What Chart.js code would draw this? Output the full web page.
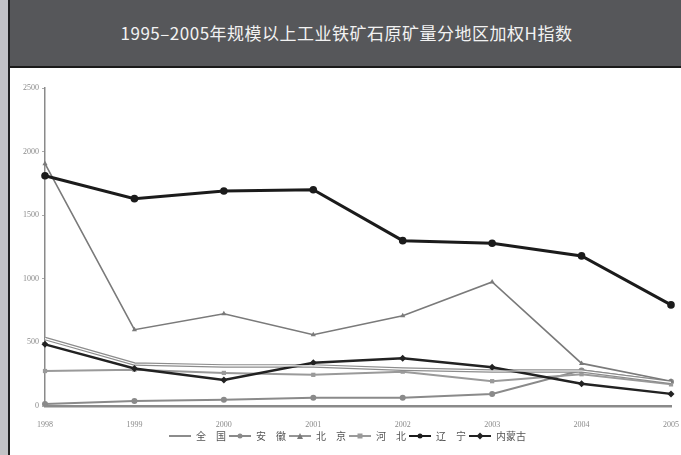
<!DOCTYPE html>
<html>
<head>
<meta charset="utf-8">
<script src="https://cdn.jsdelivr.net/npm/chart.js@4.4.1/dist/chart.umd.min.js"></script>
<style>
  html, body { margin: 0; padding: 0; width: 681px; height: 455px; overflow: hidden; background: #c3c3c6; }
  #frame { position: absolute; left: 8px; top: 0; width: 700px; height: 455px; background: #fff; border-left: 2px solid #222; }
  #title { position: absolute; left: 0; top: 0; width: 673px; height: 66px; background: #56575a; border-bottom: 2px solid #1a1a1a;
           color: #f2f2f2; font: 17px "Noto Sans CJK SC", "Noto Sans", sans-serif; line-height: 66px; text-align: center; letter-spacing: 0.5px; }
  #wrap { position: absolute; left: 0; top: 70px; width: 675px; height: 385px; }
</style>
</head>
<body>
<div id="frame">
  <div id="title">1995–2005年规模以上工业铁矿石原矿量分地区加权H指数</div>
  <div id="wrap"><canvas id="chart"></canvas></div>
</div>
<script>
// ── data ───────────────────────────────────────────────────────────────
const years = ['1998', '1999', '2000', '2001', '2002', '2003', '2004', '2005'];
const yTicks = [0, 500, 1000, 1500, 2000, 2500];
const quanguo = [530, 330, 315, 315, 290, 275, 275, 185];
const anhui   = [15, 40, 50, 65, 65, 95, 280, 190];
const beijing = [1905, 600, 725, 560, 710, 975, 335, 195];
const hebei   = [275, 285, 260, 245, 270, 195, 250, 170];
const liaoning = [1810, 1630, 1690, 1700, 1300, 1280, 1180, 795];
const neimenggu = [485, 295, 205, 340, 375, 305, 175, 95];

// small legend icon: line with marker in the middle
function legendIcon(color, marker, lw) {
  const c = document.createElement('canvas');
  c.width = 22; c.height = 8;
  const g = c.getContext('2d');
  g.strokeStyle = color; g.fillStyle = color; g.lineWidth = lw;
  g.beginPath(); g.moveTo(0, 4); g.lineTo(22, 4); g.stroke();
  if (marker === 'circle') { g.beginPath(); g.arc(11, 4, 2.5, 0, Math.PI * 2); g.fill(); }
  if (marker === 'rect') g.fillRect(8.5, 1.5, 5, 5);
  if (marker === 'triangle') { g.beginPath(); g.moveTo(11, 1); g.lineTo(14, 7); g.lineTo(8, 7); g.closePath(); g.fill(); }
  if (marker === 'rectRot') { g.beginPath(); g.moveTo(11, 0.5); g.lineTo(14.5, 4); g.lineTo(11, 7.5); g.lineTo(7.5, 4); g.closePath(); g.fill(); }
  return c;
}

function series(label, data, color, width, marker, radius) {
  return {
    label, data,
    borderColor: color, backgroundColor: color,
    borderWidth: width,
    pointStyle: marker, pointRadius: radius,
    pointBorderWidth: 0,
    tension: 0,
    legendIcon: legendIcon(color, marker, Math.min(width, 2)),
  };
}

const datasets = [
  // white core of the hollow national line
  { label: '_core', data: quanguo, borderColor: '#ffffff', borderWidth: 1.2, pointRadius: 0, tension: 0 },
  series('辽\u3000宁', liaoning, '#1b1b1b', 3, 'circle', 3.8),
  series('内蒙古', neimenggu, '#222222', 2.4, 'rectRot', 3.5),
  series('北\u3000京', beijing, '#7a7a7a', 1.6, 'triangle', 3),
  series('全\u3000国', quanguo, '#8c8c8c', 3.6, false, 0),
  series('河\u3000北', hebei, '#9a9a9a', 2, 'rect', 3),
  series('安\u3000徽', anhui, '#8a8a8a', 2, 'circle', 3),
];
const legendOrder = ['全\u3000国', '安\u3000徽', '北\u3000京', '河\u3000北', '辽\u3000宁', '内蒙古'];

new Chart(document.getElementById('chart'), {
  type: 'line',
  data: { labels: years, datasets },
  options: {
    responsive: true,
    maintainAspectRatio: false,
    animation: false,
    layout: { padding: { top: 18, left: 0, right: 0, bottom: 4 } },
    plugins: {
      tooltip: { enabled: false },
      legend: {
        position: 'bottom',
        labels: {
          usePointStyle: true,
          pointStyleWidth: 22,
          padding: 3,
          color: '#555',
          font: { size: 10, family: '"Noto Sans CJK SC", sans-serif' },
          generateLabels(chart) {
            return legendOrder.map((name) => {
              const i = chart.data.datasets.findIndex((d) => d.label === name);
              const d = chart.data.datasets[i];
              return { text: name, pointStyle: d.legendIcon, datasetIndex: i, fillStyle: d.borderColor,
                       strokeStyle: d.borderColor, lineWidth: 0, fontColor: '#555', hidden: false };
            });
          },
        },
      },
    },
    scales: {
      x: {
        offset: false,
        afterFit(scale) { scale.height = 22; },
        border: { color: '#8a8a8a', width: 2.5 },
        grid: { display: false },
        ticks: { color: '#8a8a8a', font: { size: 8, family: '"Liberation Serif", serif' }, maxRotation: 0, padding: 6 },
      },
      y: {
        min: 0, max: 2500,
        afterBuildTicks(scale) { scale.ticks = yTicks.map((v) => ({ value: v })); },
        afterFit(scale) { scale.width = 35; },
        border: { color: '#8a8a8a', width: 1.5 },
        grid: { drawOnChartArea: false, drawTicks: true, tickLength: 3, color: '#aaa' },
        ticks: { color: '#8a8a8a', font: { size: 8, family: '"Liberation Serif", serif' }, padding: 3,
                 callback: (v) => String(v) },
      },
    },
  },
});
</script>
</body>
</html>
